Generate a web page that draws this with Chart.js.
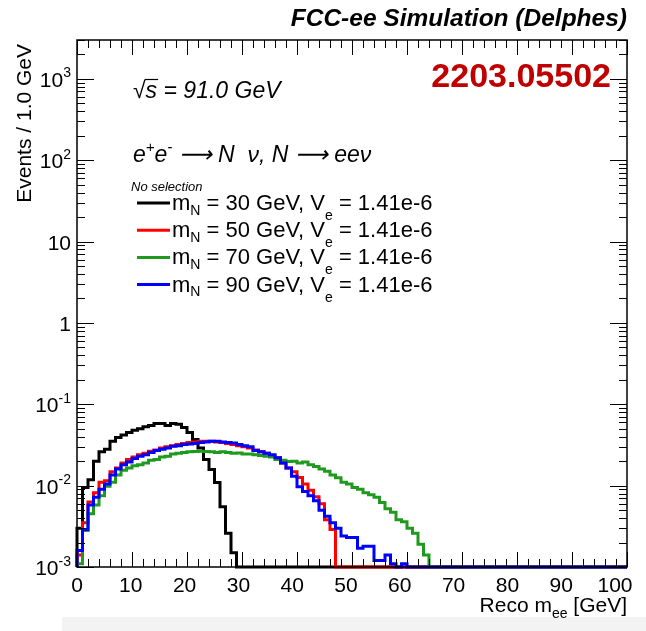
<!DOCTYPE html>
<html>
<head>
<meta charset="utf-8">
<title>Reco m_ee</title>
<script src="https://cdn.jsdelivr.net/npm/chart.js@4.4.1/dist/chart.umd.min.js"></script>
<style>
  html, body { margin: 0; padding: 0; background: #fff; }
  canvas { display: block; }
</style>
</head>
<body>
<canvas id="mee" width="646" height="631"></canvas>
<script>
// Reco m_ee histograms, 1 GeV bins from 0 to 100 GeV (events per bin)
const binWidth = 1.0
const xMin = 0
const xMax = 100
const yMin = 1e-3
const yMax = 3000

const legendMasses = ["30", "50", "70", "90"]
const legendMixing = "1.41e-6"

const mN30 = [
  0.003, 0.0095, 0.0118, 0.02, 0.026, 0.028, 0.035, 0.039, 0.042, 0.045,
  0.048, 0.05, 0.053, 0.055, 0.058, 0.058, 0.055, 0.058, 0.057, 0.052,
  0.045, 0.037, 0.029, 0.021, 0.0158, 0.0109, 0.0055, 0.0026, 0.0015, 0,
  0, 0, 0, 0, 0, 0, 0, 0, 0, 0,
  0, 0, 0, 0, 0, 0, 0, 0, 0, 0,
  0, 0, 0, 0, 0, 0, 0, 0, 0, 0,
  0, 0, 0, 0, 0, 0, 0, 0, 0, 0,
  0, 0, 0, 0, 0, 0, 0, 0, 0, 0,
  0, 0, 0, 0, 0, 0, 0, 0, 0, 0,
  0, 0, 0, 0, 0, 0, 0, 0, 0, 0
]

const mN50 = [
  0.0014, 0.0035, 0.0063, 0.0082, 0.011, 0.0115, 0.0148, 0.0165, 0.019, 0.021,
  0.0225, 0.024, 0.025, 0.0265, 0.0275, 0.029, 0.03, 0.031, 0.032, 0.033,
  0.034, 0.0345, 0.035, 0.035, 0.035, 0.0345, 0.034, 0.033, 0.032, 0.031,
  0.03, 0.029, 0.0275, 0.026, 0.025, 0.0235, 0.022, 0.019, 0.0165, 0.0148,
  0.0126, 0.0105, 0.0088, 0.0073, 0.006, 0.0038, 0.0029, 0, 0, 0,
  0, 0, 0, 0, 0, 0, 0, 0, 0, 0,
  0, 0, 0, 0, 0, 0, 0, 0, 0, 0,
  0, 0, 0, 0, 0, 0, 0, 0, 0, 0,
  0, 0, 0, 0, 0, 0, 0, 0, 0, 0,
  0, 0, 0, 0, 0, 0, 0, 0, 0, 0
]

const mN70 = [
  0.0011, 0.0028, 0.0045, 0.0058, 0.0075, 0.0098, 0.011, 0.0135, 0.0155, 0.0165,
  0.0175, 0.018, 0.019, 0.0205, 0.021, 0.0225, 0.023, 0.0245, 0.025, 0.0255,
  0.026, 0.0262, 0.0265, 0.0262, 0.026, 0.0255, 0.026, 0.0255, 0.025, 0.0252,
  0.0245, 0.0245, 0.024, 0.0235, 0.023, 0.0225, 0.021, 0.0205, 0.0198, 0.02,
  0.019, 0.0195, 0.018, 0.0172, 0.016, 0.015, 0.0135, 0.0125, 0.011, 0.0105,
  0.0095, 0.009, 0.0082, 0.0077, 0.0072, 0.0062, 0.0052, 0.0047, 0.0038, 0.0036,
  0.003, 0.0026, 0.0019, 0.0014, 0, 0, 0, 0, 0, 0,
  0, 0, 0, 0, 0, 0, 0, 0, 0, 0,
  0, 0, 0, 0, 0, 0, 0, 0, 0, 0,
  0, 0, 0, 0, 0, 0, 0, 0, 0, 0
]

const mN90 = [
  0.0016, 0.0029, 0.0058, 0.0072, 0.009, 0.0105, 0.0135, 0.016, 0.018, 0.0195,
  0.0215, 0.023, 0.024, 0.0255, 0.027, 0.028, 0.029, 0.0305, 0.031, 0.032,
  0.0325, 0.033, 0.034, 0.0345, 0.035, 0.035, 0.0345, 0.034, 0.0335, 0.032,
  0.031, 0.03, 0.027, 0.026, 0.025, 0.024, 0.022, 0.019, 0.0165, 0.013,
  0.0097, 0.0085, 0.0075, 0.0065, 0.005, 0.0042, 0.0035, 0.003, 0.0024, 0.0023,
  0.0023, 0.0017, 0.0018, 0.0018, 0.0012, 0.0012, 0.0014, 0.0011, 0, 0.0011,
  0, 0, 0, 0, 0, 0, 0, 0, 0, 0,
  0, 0, 0, 0, 0, 0, 0, 0, 0, 0,
  0, 0, 0, 0, 0, 0, 0, 0, 0, 0,
  0, 0, 0, 0, 0, 0, 0, 0, 0, 0
]

const xTickValues = [0, 10, 20, 30, 40, 50, 60, 70, 80, 90, 100]
const yTickValues = [1e-3, 1e-2, 1e-1, 1, 10, 100, 1000]
const yTickLabels = [["10", "-3"], ["10", "-2"], ["10", "-1"], ["1", ""], ["10", ""], ["10", "2"], ["10", "3"]]

const FONT = "'Liberation Sans', Arial, Helvetica, sans-serif"

// ROOT-like step histogram: one point per bin low edge, closed at the last edge.
// Empty bins sit on the axis floor like ROOT does on a log scale.
function histPoints(values) {
  const pts = [{ x: xMin, y: yMin }]
  values.forEach((v, i) => pts.push({ x: xMin + i * binWidth, y: Math.max(v, yMin) }))
  pts.push({ x: xMin + values.length * binWidth, y: Math.max(values[values.length - 1], yMin) })
  return pts
}

function histDataset(values, color, order) {
  return {
    data: histPoints(values),
    borderColor: color,
    borderWidth: 3,
    pointRadius: 0,
    stepped: true,
    fill: false,
    clip: false,
    order: order
  }
}

// text made of runs: {t, s} where s is "sub", "sup" or undefined
function drawRuns(ctx, x, y, runs, size, style, align) {
  const big = `${style} ${size}px ${FONT}`
  const small = `${style} ${Math.round(size * 0.65)}px ${FONT}`
  let total = 0
  runs.forEach(r => {
    ctx.font = r.s ? small : big
    r.w = ctx.measureText(r.t).width
    total += r.w
  })
  let cx = align === "right" ? x - total : x
  runs.forEach(r => {
    ctx.font = r.s ? small : big
    let dy = 0
    if (r.s === "sup") dy = -size * 0.45
    if (r.s === "sub") dy = size * (r.drop || 0.3)
    ctx.fillText(r.t, cx, y + dy)
    cx += r.w
  })
  return total
}

const rootStyle = {
  id: "rootStyle",
  beforeDraw(chart) {
    const { ctx, width, height } = chart
    ctx.save()
    ctx.fillStyle = "#fff"
    ctx.fillRect(0, 0, width, height)
    ctx.fillStyle = "#f3f3f3"
    ctx.fillRect(62, 617, width - 62, height - 617)
    ctx.restore()
  },
  afterDraw(chart) {
    const { ctx, chartArea: a, scales: { x, y } } = chart
    ctx.save()
    ctx.strokeStyle = "#000"
    ctx.fillStyle = "#000"

    // ticks on all four sides, pointing into the frame
    ctx.lineWidth = 1
    ctx.beginPath()
    for (let v = xMin; v <= xMax; v += 2) {
      const px = Math.round(x.getPixelForValue(v)) + 0.5
      const len = v % 10 === 0 ? 15 : 8
      ctx.moveTo(px, a.bottom); ctx.lineTo(px, a.bottom - len)
      ctx.moveTo(px, a.top); ctx.lineTo(px, a.top + len)
    }
    for (let d = -3; d <= 3; d++) {
      for (let k = 1; k <= 9; k++) {
        const v = k * Math.pow(10, d)
        if (v > yMax) break
        const py = Math.round(y.getPixelForValue(v)) + 0.5
        const len = k === 1 ? 17 : 8
        ctx.moveTo(a.left, py); ctx.lineTo(a.left + len, py)
        ctx.moveTo(a.right, py); ctx.lineTo(a.right - len, py)
      }
    }
    ctx.stroke()

    ctx.lineWidth = 1.5
    ctx.strokeRect(a.left, a.top, a.right - a.left, a.bottom - a.top)

    // axis labels; the x labels drift a little left of their ticks, as in the ROOT canvas
    ctx.textBaseline = "alphabetic"
    ctx.font = `21px ${FONT}`
    ctx.textAlign = "center"
    xTickValues.forEach(v => ctx.fillText(String(v), x.getPixelForValue(v) - 0.12 * v, 592))

    ctx.textAlign = "left"
    yTickValues.forEach((v, i) => {
      const [base, exp] = yTickLabels[i]
      drawRuns(ctx, 71, y.getPixelForValue(v) + 8, [{ t: base }, { t: exp, s: "sup" }], 21, "", "right")
    })

    drawRuns(ctx, a.right, 612, [{ t: "Reco m" }, { t: "ee", s: "sub" }, { t: " [GeV]" }], 21, "", "right")

    ctx.save()
    ctx.translate(31, a.top + 4)
    ctx.rotate(-Math.PI / 2)
    ctx.textAlign = "right"
    ctx.font = `21px ${FONT}`
    ctx.fillText("Events / 1.0 GeV", 0, 0)
    ctx.restore()

    // header
    ctx.textAlign = "right"
    ctx.font = `italic bold 24.5px ${FONT}`
    ctx.fillText("FCC-ee Simulation (Delphes)", a.right, 26)
    ctx.fillStyle = "#c00000"
    ctx.font = `bold 34px ${FONT}`
    ctx.fillText("2203.05502", 611, 87)

    // annotations
    ctx.fillStyle = "#000"
    ctx.textAlign = "left"
    ctx.font = `italic 23px ${FONT}`
    ctx.fillText("\u221A", 133, 98)
    const rw = ctx.measureText("\u221A").width
    ctx.fillText("s = 91.0 GeV", 133 + rw, 98)
    const sw = ctx.measureText("s").width
    ctx.lineWidth = 1.2
    ctx.beginPath()
    ctx.moveTo(133 + rw - 1, 79.5); ctx.lineTo(133 + rw + sw + 1, 79.5)
    ctx.stroke()

    drawRuns(ctx, 133, 162, [
      { t: "e" }, { t: "+", s: "sup" }, { t: "e" }, { t: "-", s: "sup" },
      { t: " \u27F6 N  \u03BD, N \u27F6 ee\u03BD" }
    ], 23, "italic", "left")

    ctx.font = `italic 13px ${FONT}`
    ctx.fillText("No selection", 131, 191)

    const colors = ["#000000", "#ff0000", "#1f9a1f", "#0000ff"]
    legendMasses.forEach((m, i) => {
      const ly = 203 + i * 27.2
      ctx.strokeStyle = colors[i]
      ctx.lineWidth = 3
      ctx.beginPath()
      ctx.moveTo(137, ly); ctx.lineTo(170, ly)
      ctx.stroke()
      drawRuns(ctx, 172, ly + 7, [
        { t: "m" }, { t: "N", s: "sub", drop: 0.22 },
        { t: ` = ${m} GeV, V` }, { t: "e", s: "sub", drop: 0.45 },
        { t: ` = ${legendMixing}` }
      ], 22, "", "left")
    })
    ctx.restore()
  }
}

new Chart(document.getElementById("mee"), {
  type: "line",
  data: {
    datasets: [
      histDataset(mN30, "#000000", 3),
      histDataset(mN50, "#ff0000", 2),
      histDataset(mN70, "#1f9a1f", 1),
      histDataset(mN90, "#0000ff", 0)
    ]
  },
  options: {
    responsive: false,
    animation: false,
    devicePixelRatio: 1,
    layout: { padding: { left: 77, right: 19, top: 40, bottom: 64 } },
    plugins: {
      legend: { display: false },
      tooltip: { enabled: false }
    },
    scales: {
      x: { type: "linear", min: xMin, max: xMax, display: false },
      y: { type: "logarithmic", min: yMin, max: yMax, display: false }
    }
  },
  plugins: [rootStyle]
})
</script>
</body>
</html>
